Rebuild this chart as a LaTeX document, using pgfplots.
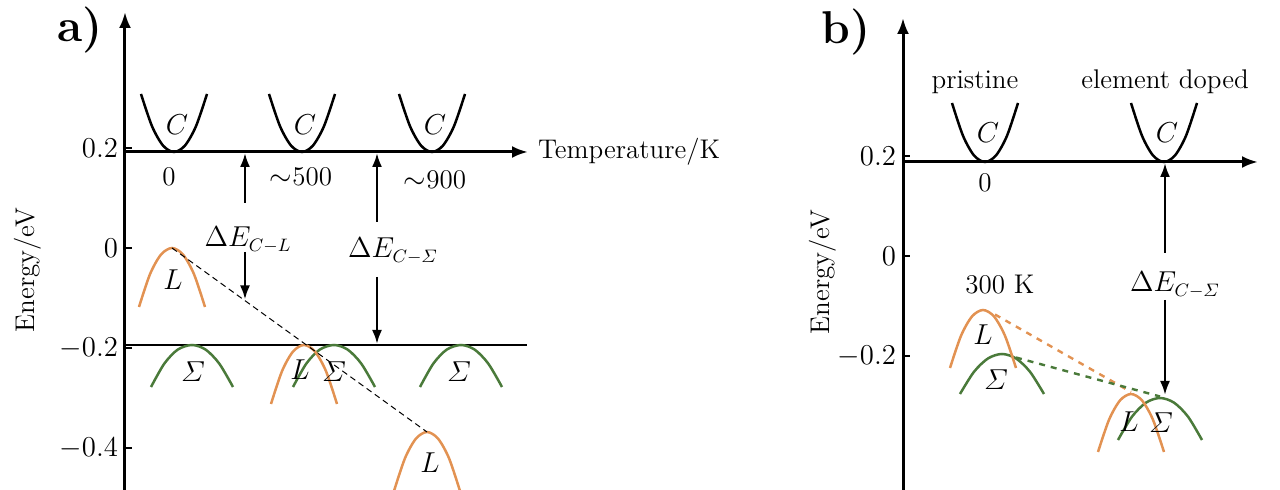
\documentclass[border=0pt]{standalone}
\usepackage{amsmath}
\usepackage{pgfplots}
\pgfplotsset{compat=1.18}
\usetikzlibrary{arrows.meta}
\definecolor{lorange}{RGB}{226,146,82}
\definecolor{sgreen}{RGB}{74,122,58}
\newcommand{\fs}{\fontsize{13.5}{16}\selectfont}
\pgfplotsset{
  myaxis/.style={
    axis x line=none, axis y line=left, enlargelimits=false, clip=false,
    x=0.5pt, y=250pt, xtick=\empty, anchor=south west,
    y axis line style={line width=1.5pt, -{Latex[length=8pt,width=6pt]}},
    ytick style={line width=1.2pt,black}, tick align=inside, major tick length=3.5pt,
    tick label style={font=\fs},
  },
  bandC/.style={black, line width=1.25pt, smooth, no markers},
  bandL/.style={lorange, line width=1.25pt, smooth, no markers},
  bandS/.style={sgreen, line width=1.25pt, smooth, no markers},
  harrow/.style={black, line width=1.5pt, no markers, -{Latex[length=8pt,width=6pt]}},
  varrow/.style={black, line width=1.2pt, no markers, -{Latex[length=7pt,width=5pt]}},
}
\begin{document}
\begin{tikzpicture}
\useasboundingbox (0,0) rectangle (640pt,245pt);
% ---------------- panel a ----------------
\begin{axis}[myaxis, at={(62.5pt,0pt)}, xmin=125, xmax=530, ymin=-0.484, ymax=0.472,
  ytick={-0.4,-0.2,0,0.2}]
\addplot[harrow] coordinates {(125,0.192) (528,0.192)};
\addplot[black, line width=0.8pt, no markers] coordinates {(125,-0.194) (527,-0.194)};
% C bands
\addplot[bandC] coordinates {(141,0.308) (152,0.2436) (163,0.2049) (174,0.192) (185,0.2049) (196,0.2436) (207,0.308)};
\addplot[bandC] coordinates {(269,0.308) (280,0.2436) (291,0.2049) (302,0.192) (313,0.2049) (324,0.2436) (335,0.308)};
\addplot[bandC] coordinates {(399,0.308) (410,0.2436) (421,0.2049) (432,0.192) (443,0.2049) (454,0.2436) (465,0.308)};
% Sigma bands
\addplot[bandS] coordinates {(151,-0.278) (164.3,-0.2313) (177.7,-0.2033) (192,-0.194) (205.7,-0.2033) (219.3,-0.2313) (233,-0.278)};
\addplot[bandS] coordinates {(293,-0.278) (306.3,-0.2313) (319.7,-0.2033) (334,-0.194) (347.7,-0.2033) (361.3,-0.2313) (375,-0.278)};
\addplot[bandS] coordinates {(420,-0.278) (433.3,-0.2313) (446.7,-0.2033) (461,-0.194) (474.7,-0.2033) (488.3,-0.2313) (502,-0.278)};
% L bands
\addplot[bandL] coordinates {(139,-0.118) (150,-0.0524) (161,-0.0131) (172,0) (183,-0.0131) (194,-0.0524) (205,-0.118)};
\addplot[bandL] coordinates {(271,-0.312) (282,-0.2464) (293,-0.2071) (304,-0.194) (315,-0.2071) (326,-0.2464) (337,-0.312)};
\addplot[bandL] coordinates {(394,-0.486) (405,-0.4204) (416,-0.3811) (427,-0.368) (438,-0.3811) (449,-0.4204) (460,-0.486)};
% dashed trend
\addplot[black, line width=0.5pt, densely dashed, no markers] coordinates {(172,0) (427,-0.368)};
% energy-gap arrows
\addplot[varrow] coordinates {(245,0.09) (245,0.190)};
\addplot[varrow] coordinates {(245,-0.008) (245,-0.103)};
\addplot[varrow] coordinates {(377,0.052) (377,0.190)};
\addplot[varrow] coordinates {(377,-0.058) (377,-0.192)};
% labels
\node[font=\fs] at (axis cs:177,0.246) {$C$};
\node[font=\fs] at (axis cs:305,0.246) {$C$};
\node[font=\fs] at (axis cs:435,0.246) {$C$};
\node[font=\fs] at (axis cs:169,0.142) {0};
\node[font=\fs] at (axis cs:301,0.142) {$\sim$500};
\node[font=\fs] at (axis cs:435,0.136) {$\sim$900};
\node[font=\fs, anchor=west] at (axis cs:531,0.192) {Temperature/K};
\node[font=\fs] at (axis cs:248,0.016) {$\Delta E_{C-L}$};
\node[font=\fs] at (axis cs:393,-0.006) {$\Delta E_{C-\varSigma}$};
\node[font=\fs] at (axis cs:173,-0.064) {$L$};
\node[font=\fs] at (axis cs:300,-0.244) {$L$};
\node[font=\fs] at (axis cs:430,-0.43) {$L$};
\node[font=\fs] at (axis cs:193,-0.248) {$\varSigma$};
\node[font=\fs] at (axis cs:334,-0.248) {$\varSigma$};
\node[font=\fs] at (axis cs:459,-0.248) {$\varSigma$};
\node[font=\fs, rotate=90] at (axis cs:28,-0.044) {Energy/eV};
\node[font=\bfseries\fontsize{23}{23}\selectfont] at (axis cs:80,0.436) {a)};
\end{axis}
% ---------------- panel b ----------------
\begin{axis}[myaxis, at={(451.5pt,0pt)}, xmin=903, xmax=1262, ymin=-0.468, ymax=0.476,
  ytick={-0.2,0,0.2}]
\addplot[harrow] coordinates {(903,0.188) (1258,0.188)};
% C bands
\addplot[bandC] coordinates {(952,0.306) (963,0.2404) (974,0.2011) (985,0.188) (996,0.2011) (1007,0.2404) (1018,0.306)};
\addplot[bandC] coordinates {(1131,0.306) (1142,0.2404) (1153,0.2011) (1164,0.188) (1175,0.2011) (1186,0.2404) (1197,0.306)};
% Sigma bands
\addplot[bandS] coordinates {(960,-0.276) (974,-0.2316) (988,-0.2049) (1002,-0.196) (1016,-0.2049) (1030,-0.2316) (1044,-0.276)};
\addplot[bandS] coordinates {(1118,-0.368) (1132,-0.3213) (1146,-0.2933) (1160,-0.284) (1174,-0.2933) (1188,-0.3213) (1202,-0.368)};
% L bands
\addplot[bandL] coordinates {(950,-0.224) (961,-0.1596) (972,-0.1209) (983,-0.108) (994,-0.1209) (1005,-0.1596) (1016,-0.224)};
\addplot[bandL] coordinates {(1098,-0.392) (1109,-0.3276) (1120,-0.2889) (1131,-0.276) (1142,-0.2889) (1153,-0.3276) (1164,-0.392)};
% dashed trends
\addplot[lorange, line width=1.2pt, dashed, no markers] coordinates {(995,-0.117) (1131,-0.272)};
\addplot[sgreen, line width=1.2pt, dashed, no markers] coordinates {(1016,-0.203) (1160,-0.281)};
% arrows
\addplot[varrow] coordinates {(1165,0.006) (1165,0.186)};
\addplot[varrow] coordinates {(1165,-0.088) (1165,-0.278)};
% labels
\node[font=\fs] at (axis cs:988,0.246) {$C$};
\node[font=\fs] at (axis cs:1167,0.246) {$C$};
\node[font=\fs] at (axis cs:985,0.146) {0};
\node[font=\fs] at (axis cs:975,0.348) {pristine};
\node[font=\fs] at (axis cs:1165,0.348) {element doped};
\node[font=\fs] at (axis cs:1000,-0.058) {300 K};
\node[font=\fs] at (axis cs:1175,-0.058) {$\Delta E_{C-\varSigma}$};
\node[font=\fs] at (axis cs:983,-0.158) {$L$};
\node[font=\fs] at (axis cs:996,-0.248) {$\varSigma$};
\node[font=\fs] at (axis cs:1129,-0.332) {$L$};
\node[font=\fs] at (axis cs:1161,-0.334) {$\varSigma$};
\node[font=\fs, rotate=90] at (axis cs:823,-0.032) {Energy/eV};
\node[font=\bfseries\fontsize{23}{23}\selectfont] at (axis cs:846,0.448) {b)};
\end{axis}
\end{tikzpicture}
\end{document}
